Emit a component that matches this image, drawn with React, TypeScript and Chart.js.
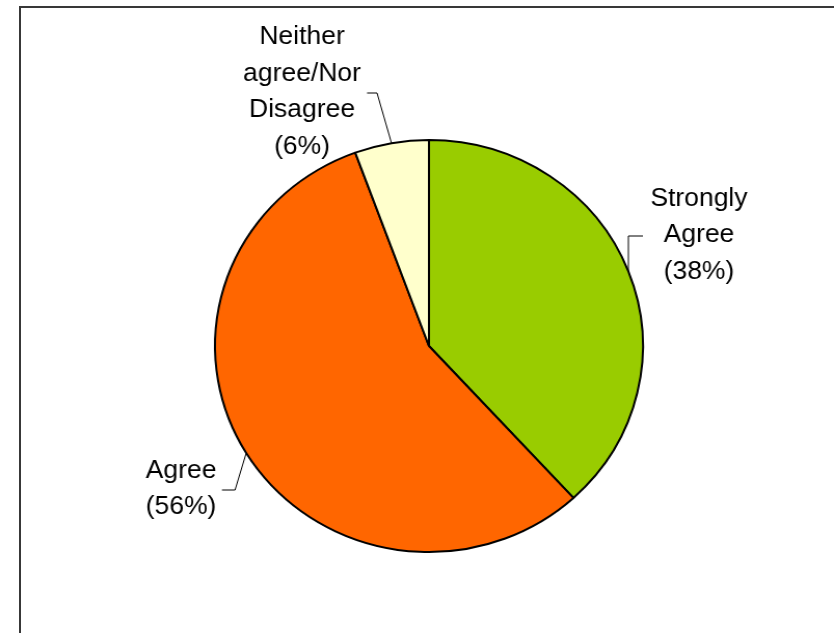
import React, { useEffect, useRef } from "react";
import { Chart, registerables } from "chart.js";

Chart.register(...registerables);

// ---- data ----
const categories: string[][] = [["Strongly", "Agree"], ["Agree"], ["Neither", "agree/Nor", "Disagree"]];
const values: number[] = [38.2, 56.2, 5.6];
const colors: string[] = ["#99CC00", "#FF6600", "#FFFFCC"];

// ---- layout (internal canvas px, relative to pie centre) ----
const STRETCH = 214 / 206; // reference pie is slightly wider than tall
const CANVAS_H = 633;
const CANVAS_W = Math.round(834 / STRETCH);
const labelLayout = [
  { text: [260, -111], elbow: [null, -110], end: [206, -110] },
  { text: [-238.7, 143], elbow: [-186.7, 144], end: [-199.3, 144] },
  { text: [-122.2, -254], elbow: [-50, -253], end: [-59.6, -253] },
];
const LINE_H = 36.5;
const FONT = '25.5px "Liberation Sans", Arial, sans-serif';

const labelPlugin = {
  id: "pieLabels",
  afterDraw(chart: any) {
    const ctx = chart.ctx;
    const meta = chart.getDatasetMeta(0);
    const data = chart.data.datasets[0].data as number[];
    const total = data.reduce((a, b) => a + b, 0);
    ctx.save();
    meta.data.forEach((arc: any, i: number) => {
      const p = arc.getProps(["x", "y", "startAngle", "endAngle", "outerRadius"], true);
      const mid = (p.startAngle + p.endAngle) / 2;
      const ex = p.x + Math.cos(mid) * p.outerRadius;
      const ey = p.y + Math.sin(mid) * p.outerRadius;
      const L = labelLayout[i];
      const bx = L.elbow[0] === null ? ex : p.x + (L.elbow[0] as number);
      const by = p.y + L.elbow[1];
      ctx.beginPath();
      ctx.strokeStyle = "#000";
      ctx.lineWidth = 1;
      ctx.moveTo(ex, ey);
      ctx.lineTo(bx, by);
      ctx.lineTo(p.x + L.end[0], p.y + L.end[1]);
      ctx.stroke();

      const lines = [...categories[i], `(${Math.round((data[i] / total) * 100)}%)`];
      ctx.fillStyle = "#000";
      ctx.font = FONT;
      ctx.textAlign = "center";
      ctx.textBaseline = "middle";
      const n = lines.length;
      lines.forEach((t, k) => {
        ctx.fillText(t, p.x + L.text[0], p.y + L.text[1] + (k - (n - 1) / 2) * LINE_H);
      });
    });
    ctx.restore();
  },
};

export default function App() {
  const ref = useRef<HTMLCanvasElement | null>(null);
  useEffect(() => {
    if (!ref.current) return;
    const chart = new Chart(ref.current, {
      type: "pie",
      data: {
        labels: categories.map((c) => c.join(" ")),
        datasets: [
          {
            data: values,
            backgroundColor: colors,
            borderColor: "#000",
            borderWidth: 2,
          },
        ],
      },
      options: {
        responsive: false,
        devicePixelRatio: 1,
        animation: false,
        radius: 206,
        layout: { padding: { top: 100, bottom: 41, left: 150, right: CANVAS_W - 413 - 263 } },
        plugins: { legend: { display: false }, tooltip: { enabled: false } },
      } as any,
      plugins: [labelPlugin],
    });
    return () => chart.destroy();
  }, []);
  return (
    <div style={{ position: "absolute", left: 0, top: 0, width: 834, height: 633, overflow: "hidden", background: "#fff" }}>
      <canvas
        ref={ref}
        width={CANVAS_W}
        height={CANVAS_H}
        style={{ width: 834, height: 633, display: "block" }}
      />
      <div
        style={{
          position: "absolute",
          left: 19,
          top: 6,
          right: -20,
          bottom: -20,
          borderLeft: "2px solid #383838",
          borderTop: "2px solid #383838",
          pointerEvents: "none",
        }}
      />
    </div>
  );
}
